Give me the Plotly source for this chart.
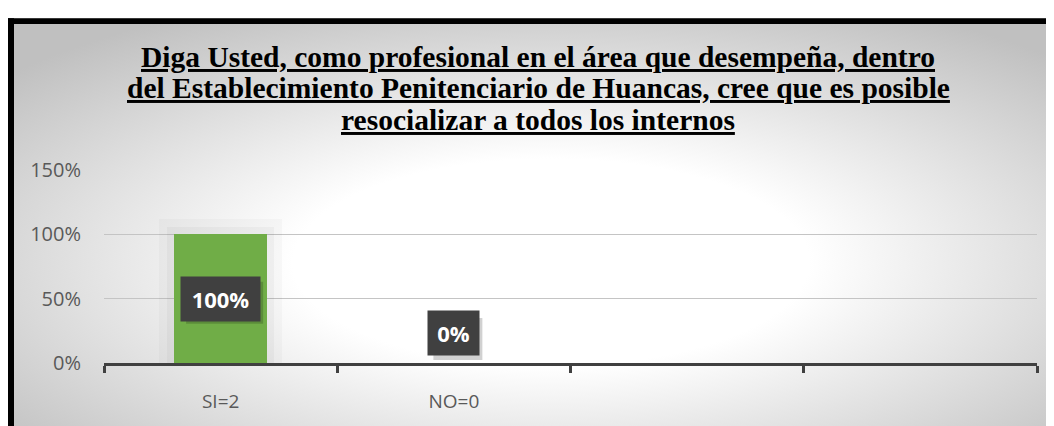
import base64
import plotly.graph_objects as go

# ---------------- data ----------------
categories = ["SI=2", "NO=0"]
values = [1.0, 0.0]
slot_count = 4  # category slots on the axis (two empty ones on the right)
y_ticks = [0, 0.5, 1.0, 1.5]
title_lines = [
    "Diga Usted, como profesional en el área que desempeña, dentro",
    "del Establecimiento Penitenciario de Huancas, cree que es posible",
    "resocializar a todos los internos",
]

# ---------------- layout geometry (figure is drawn 8px in from page edge) ----------------
W, H = 1046, 418
ML, MR, MT, MB = 96, 17, 162, 55
PW, PH = W - ML - MR, H - MT - MB


def px_x(px):
    return (px - ML) / PW


def px_y(py):
    return (H - MB - py) / PH


x_pos = list(range(len(categories)))

# radial gradient background as svg
svg = (
    "<svg xmlns='http://www.w3.org/2000/svg' width='1100' height='460' viewBox='0 0 1100 460' preserveAspectRatio='none'>"
    "<defs><radialGradient id='g' cx='0.5' cy='0.56' r='0.66' gradientUnits='objectBoundingBox'>"
    "<stop offset='0' stop-color='#ffffff'/>"
    "<stop offset='0.36' stop-color='#ffffff'/>"
    "<stop offset='1' stop-color='#c0c0c0'/>"
    "</radialGradient></defs>"
    "<rect x='0' y='0' width='1100' height='460' fill='url(#g)'/></svg>"
)
svg_uri = "data:image/svg+xml;base64," + base64.b64encode(svg.encode()).decode()

fig = go.Figure()

# soft halo behind bars
halo_w = [30 if v > 0 else 0 for v in values]
halo_w2 = [14 if v > 0 else 0 for v in values]
fig.add_trace(go.Bar(x=x_pos, y=values, width=0.4,
                     marker=dict(color="rgba(0,0,0,0)",
                                 line=dict(color="rgba(0,0,0,0.025)", width=halo_w)),
                     hoverinfo="skip", showlegend=False))
fig.add_trace(go.Bar(x=x_pos, y=values, width=0.4,
                     marker=dict(color="rgba(0,0,0,0)",
                                 line=dict(color="rgba(0,0,0,0.03)", width=halo_w2)),
                     hoverinfo="skip", showlegend=False))
# main bars
fig.add_trace(go.Bar(x=x_pos, y=values, width=0.4,
                     marker=dict(color="#70ad47", line=dict(width=0)),
                     showlegend=False))

shapes = []
# data labels
BOX_H = 42
for xi, v in zip(x_pos, values):
    txt = f"<b>{v * 100:.0f}%</b>"
    bw = 77 if v > 0 else 49
    if v > 0:
        ypos, yanchor, ysh = v / 2, "middle", 0
        yb0, yb1 = -BOX_H / 2, BOX_H / 2
    else:
        ypos, yanchor, ysh = v, "bottom", 7
        yb0, yb1 = 7, 7 + BOX_H
    # drop shadow of the label box
    shapes.append(dict(type="rect", xref="x", yref="y", layer="above",
                       xsizemode="pixel", ysizemode="pixel",
                       xanchor=xi, yanchor=ypos,
                       x0=-bw / 2 + 4, x1=bw / 2 + 4, y0=yb0 - 4, y1=yb1 - 4,
                       fillcolor="rgba(0,0,0,0.18)", line=dict(width=0)))
    fig.add_annotation(x=xi, y=ypos, xref="x", yref="y", text=txt, showarrow=False,
                       yanchor=yanchor, yshift=ysh,
                       font=dict(family="Open Sans", size=22, color="#ffffff"),
                       bgcolor="#404040", width=bw, height=BOX_H)

# title lines
title_centers = [44, 77, 110]
for line, cy in zip(title_lines, title_centers):
    fig.add_annotation(x=px_x(530), y=px_y(cy), xref="paper", yref="paper",
                       text=f"<b><u>{line}</u></b>", showarrow=False,
                       xanchor="center", yanchor="middle",
                       font=dict(family="Liberation Serif", size=29.5, color="#000000"))

# chart-area border (top and left edges visible)
shapes += [
    dict(type="rect", xref="paper", yref="paper", layer="above",
         x0=px_x(0), x1=px_x(W + 20), y0=px_y(4), y1=px_y(10),
         fillcolor="#000000", line=dict(width=0)),
    dict(type="rect", xref="paper", yref="paper", layer="above",
         x0=px_x(0), x1=px_x(6), y0=px_y(4), y1=px_y(H + 20),
         fillcolor="#000000", line=dict(width=0)),
]

fig.update_layout(
    width=W, height=H,
    margin=dict(l=ML, r=MR, t=MT, b=MB, pad=0),
    paper_bgcolor="#ffffff",
    plot_bgcolor="rgba(0,0,0,0)",
    barmode="overlay",
    bargap=0,
    xaxis=dict(
        range=[-0.5, slot_count - 0.5],
        tickmode="array", tickvals=x_pos, ticktext=categories,
        ticks="", showgrid=False, zeroline=False,
        showline=True, linecolor="#404040", linewidth=3,
        tickfont=dict(family="Open Sans", size=19, color="#595959"),
        ticklabelstandoff=19,
        minor=dict(ticks="outside", tick0=-0.5, dtick=1, ticklen=7,
                   tickwidth=3, tickcolor="#404040", showgrid=False),
        fixedrange=True,
    ),
    yaxis=dict(
        range=[0, 1.5], tickmode="array", tickvals=y_ticks,
        tickformat=".0%", ticks="",
        showgrid=True, gridcolor="#c4c4c4", gridwidth=1,
        zeroline=False, showline=False,
        tickfont=dict(family="Open Sans", size=20, color="#595959"),
        ticklabelstandoff=22,
        fixedrange=True,
    ),
    images=[dict(
        source=svg_uri, xref="paper", yref="paper",
        x=px_x(0), y=px_y(4), sizex=(W + 40) / PW, sizey=(H + 40 - 4) / PH,
        xanchor="left", yanchor="top", sizing="stretch", layer="below",
    )],
    shapes=shapes,
)

fig.write_html("out.html")
